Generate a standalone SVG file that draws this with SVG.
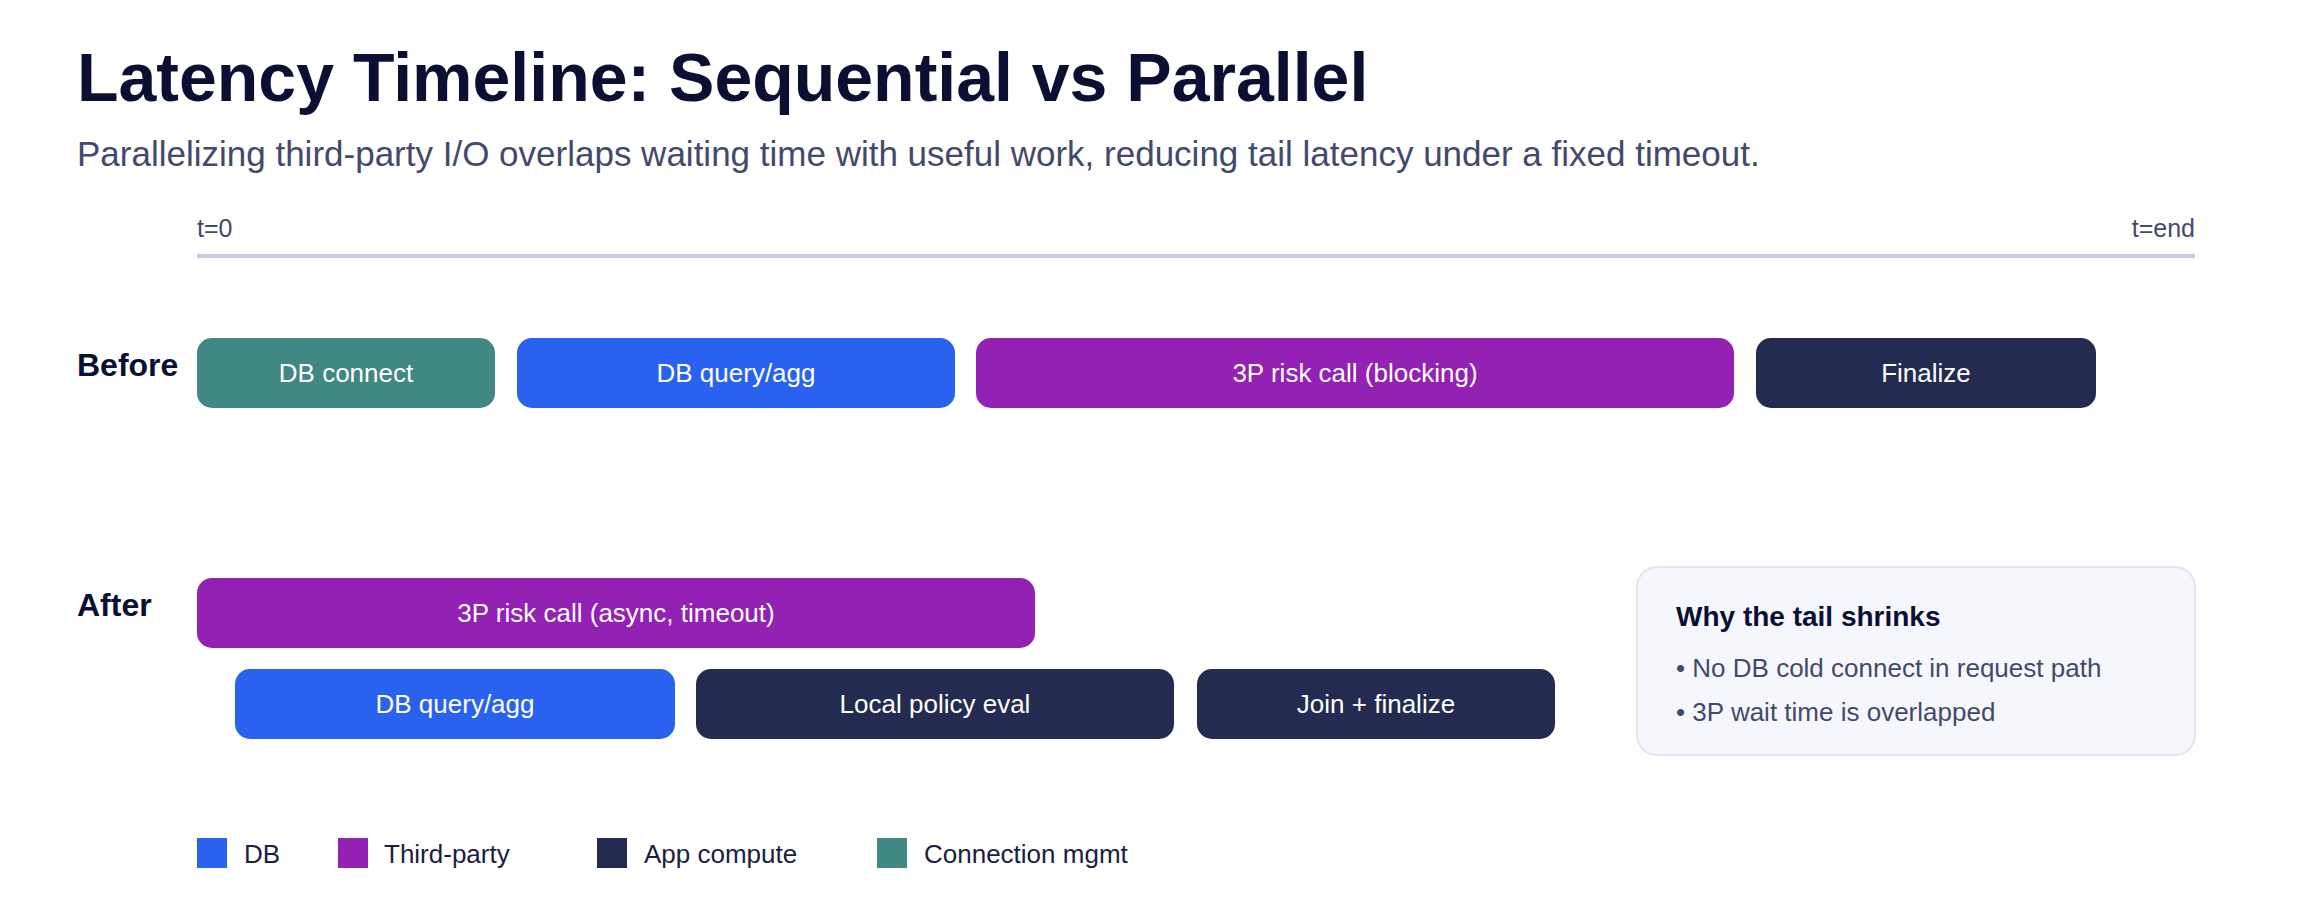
<svg xmlns="http://www.w3.org/2000/svg" width="2322" height="924" viewBox="0 0 2322 924">
<style>
text{font-family:"Liberation Sans",Arial,sans-serif}
.bar text{fill:#fff;font-size:26px;text-anchor:middle}
.lbl{font-size:32px;font-weight:bold;fill:#0b1033}
.leg{font-size:26px;fill:#1b2040}
.teal{fill:#418782}.blue{fill:#2a62f0}.purple{fill:#9321b4}.navy{fill:#232c50}
</style>
<rect width="2322" height="924" fill="#fff"/>
<text x="77" y="101" font-size="68" font-weight="bold" fill="#0b1033">Latency Timeline: Sequential vs Parallel</text>
<text x="77" y="166" font-size="35" fill="#44496b">Parallelizing third-party I/O overlaps waiting time with useful work, reducing tail latency under a fixed timeout.</text>
<text x="197" y="237" font-size="25" fill="#44496b">t=0</text>
<text x="2195" y="237" font-size="25" fill="#44496b" text-anchor="end">t=end</text>
<line x1="197" y1="256" x2="2195" y2="256" stroke="#c9c8dc" stroke-width="4"/>
<text class="lbl" x="77" y="376">Before</text>
<text class="lbl" x="77" y="616">After</text>
<g id="b1" class="bar"><rect class="teal" x="197" y="338" width="298" height="70" rx="15"/><text x="346" y="382">DB connect</text></g>
<g id="b2" class="bar"><rect class="blue" x="517" y="338" width="438" height="70" rx="15"/><text x="736" y="382">DB query/agg</text></g>
<g id="b3" class="bar"><rect class="purple" x="976" y="338" width="758" height="70" rx="15"/><text x="1355" y="382">3P risk call (blocking)</text></g>
<g id="b4" class="bar"><rect class="navy" x="1756" y="338" width="340" height="70" rx="15"/><text x="1926" y="382">Finalize</text></g>
<g id="a1" class="bar"><rect class="purple" x="197" y="578" width="838" height="70" rx="15"/><text x="616" y="622">3P risk call (async, timeout)</text></g>
<g id="a2" class="bar"><rect class="blue" x="235" y="669" width="440" height="70" rx="15"/><text x="455" y="713">DB query/agg</text></g>
<g id="a3" class="bar"><rect class="navy" x="696" y="669" width="478" height="70" rx="15"/><text x="935" y="713">Local policy eval</text></g>
<g id="a4" class="bar"><rect class="navy" x="1197" y="669" width="358" height="70" rx="15"/><text x="1376" y="713">Join + finalize</text></g>
<g id="note">
<rect x="1637" y="567" width="558" height="188" rx="20" fill="#f6f7fc" stroke="#e2e5f0" stroke-width="2"/>
<text x="1676" y="626" font-size="28" font-weight="bold" fill="#0b1033">Why the tail shrinks</text>
<text x="1676" y="677" font-size="26" fill="#44496b">• No DB cold connect in request path</text>
<text x="1676" y="721" font-size="26" fill="#44496b">• 3P wait time is overlapped</text>
</g>
<g id="legend">
<rect class="blue" x="197" y="838" width="30" height="30"/><text class="leg" x="244" y="863">DB</text>
<rect class="purple" x="338" y="838" width="30" height="30"/><text class="leg" x="384" y="863">Third-party</text>
<rect class="navy" x="597" y="838" width="30" height="30"/><text class="leg" x="644" y="863">App compute</text>
<rect class="teal" x="877" y="838" width="30" height="30"/><text class="leg" x="924" y="863">Connection mgmt</text>
</g>
<g id="connectors"/>
</svg>
